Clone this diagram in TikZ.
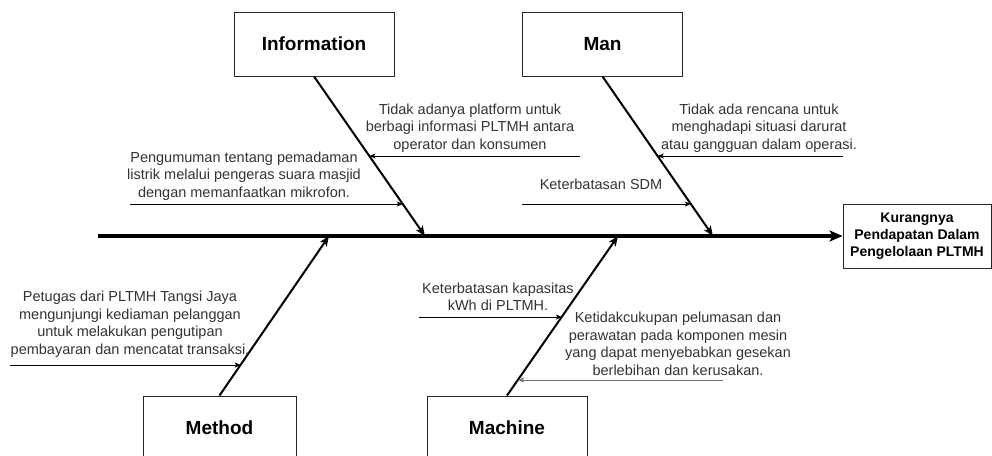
\documentclass[tikz,border=0pt]{standalone}
\usepackage{fontspec}
\setmainfont{Liberation Sans}
\usetikzlibrary{arrows.meta}
\begin{document}
\begin{tikzpicture}[x=1pt,y=-1pt,
  catbox/.style={draw=black!85,line width=0.9pt,minimum width=160pt,minimum height=64pt,inner sep=0pt,font=\fontsize{19}{22}\selectfont\bfseries},
  resbox/.style={draw=black!85,line width=0.9pt,minimum width=148pt,minimum height=64pt,inner sep=0pt,align=center,font=\fontsize{14}{17}\selectfont\bfseries},
  cause/.style={inner sep=0pt,align=center,text=black!80,font=\fontsize{14.5}{17.5}\selectfont},
  spine/.style={line width=3.2pt,-{Stealth[length=13pt,width=11pt,inset=3pt]}},
  bone/.style={line width=2pt,-{Stealth[length=10pt,width=8pt,inset=2.5pt]}},
  sub/.style={line width=0.8pt,-{Stealth[length=6pt,width=5pt,inset=1.5pt]}}]
\useasboundingbox (0,0) rectangle (992,455);
% boxes
\node[catbox] (info) at (314,44) {Information};
\node[catbox] (man) at (602.5,44) {Man};
\node[catbox,minimum width=153pt] (method) at (219.5,428) {Method};
\node[catbox] (machine) at (507,428) {Machine};
\node[resbox] (res) at (917,236) {Kurangnya\\Pendapatan Dalam\\Pengelolaan PLTMH};
% spine
\coordinate (s0) at (98,236);
\draw[spine] (s0) -- (res.west);
% tips on spine
\coordinate (ti) at (425,236);
\coordinate (tm) at (713,236);
\coordinate (tme) at (329,236);
\coordinate (tma) at (618,236);
% bones
\draw[bone] (info.south) -- coordinate[pos=0.5] (i1) coordinate[pos=0.8] (i2) (ti);
\draw[bone] (man.south) -- coordinate[pos=0.5] (m1) coordinate[pos=0.8] (m2) (tm);
\draw[bone] (method.north) -- coordinate[pos=0.194] (me1) (tme);
\draw[bone] (machine.north) -- coordinate[pos=0.494] (ma1) coordinate[pos=0.1] (ma2) (tma);
% sub-cause free ends
\coordinate (fi1) at (580,156);
\coordinate (fi2) at (130,204);
\coordinate (fm1) at (843,156);
\coordinate (fm2) at (522,204);
\coordinate (fme1) at (10,365);
\coordinate (fma1) at (419,317);
\coordinate (fma2) at (723,380);
\draw[sub] (fi1) -- (fi1 -| i1);
\draw[sub] (fi2) -- (fi2 -| i2);
\draw[sub] (fm1) -- (fm1 -| m1);
\draw[sub] (fm2) -- (fm2 -| m2);
\draw[sub] (fme1) -- (fme1 -| me1);
\draw[sub] (fma1) -- (fma1 -| ma1);
\draw[sub,draw=black!55] (fma2) -- (fma2 -| ma2);
% texts
\node[cause] (ti1) at (470,128) {Tidak adanya platform untuk\\berbagi informasi PLTMH antara\\operator dan konsumen};
\node[cause] (ti2) at (244,176) {Pengumuman tentang pemadaman\\listrik melalui pengeras suara masjid\\dengan memanfaatkan mikrofon.};
\node[cause] (tm1) at (759,128) {Tidak ada rencana untuk\\menghadapi situasi darurat\\atau gangguan dalam operasi.};
\node[cause] (tm2) at (601,184) {Keterbatasan SDM};
\node[cause] (tme1) at (130,324) {Petugas dari PLTMH Tangsi Jaya\\mengunjungi kediaman pelanggan\\untuk melakukan pengutipan\\pembayaran dan mencatat transaksi.};
\node[cause] (tma1) at (498,297) {Keterbatasan kapasitas\\kWh di PLTMH.};
\node[cause] (tma2) at (678,344) {Ketidakcukupan pelumasan dan\\perawatan pada komponen mesin\\yang dapat menyebabkan gesekan\\berlebihan dan kerusakan.};
\end{tikzpicture}
\end{document}
